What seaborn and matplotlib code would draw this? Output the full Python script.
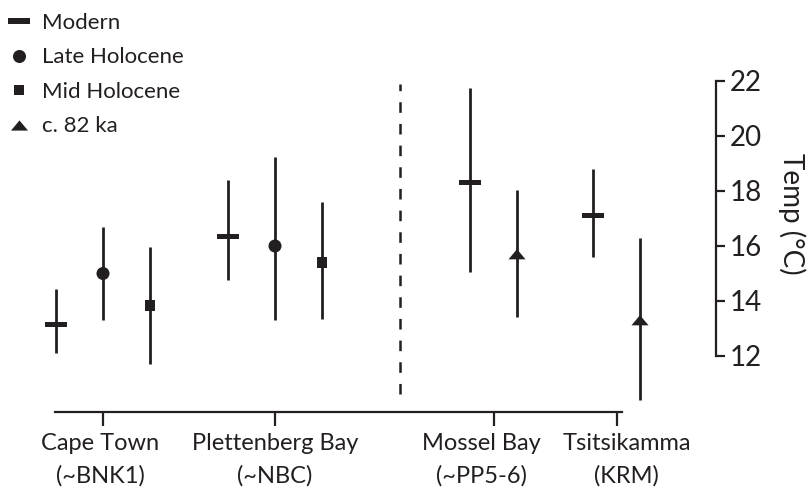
import numpy as np
import pandas as pd
import seaborn as sns
import matplotlib.pyplot as plt
import matplotlib.transforms as mtransforms
from matplotlib.path import Path

# Temperature estimates (deg C) per site and period
sites = ["Cape Town", "Plettenberg Bay", "Mossel Bay", "Tsitsikamma"]
site_codes = ["(~BNK1)", "(~NBC)", "(~PP5-6)", "(KRM)"]
periods = ["Modern", "Late Holocene", "Mid Holocene", "c. 82 ka"]

site = ["Cape Town"] * 3 + ["Plettenberg Bay"] * 3 + ["Mossel Bay"] * 2 + ["Tsitsikamma"] * 2
period = ["Modern", "Late Holocene", "Mid Holocene",
          "Modern", "Late Holocene", "Mid Holocene",
          "Modern", "c. 82 ka",
          "Modern", "c. 82 ka"]
temp = [13.15, 15.0, 13.85, 16.35, 16.0, 15.4, 18.3, 15.7, 17.1, 13.3]
temp_low = [12.1, 13.3, 11.7, 14.75, 13.3, 13.35, 15.05, 13.4, 15.6, 10.4]
temp_high = [14.45, 16.7, 15.95, 18.4, 19.25, 17.6, 21.75, 18.05, 18.8, 16.3]
y_ticks = [12, 14, 16, 18, 20, 22]

# Layout: x axis is laid out in figure pixels
site_x = {"Cape Town": 103, "Plettenberg Bay": 275, "Mossel Bay": 493.5, "Tsitsikamma": 616.5}
slot = 47
label_shift = [-3, 0, -12, 10]
ink = "#231f20"

sns.set_style("ticks")
plt.rcParams["font.family"] = ["Lato", "DejaVu Sans"]
plt.rcParams["lines.scale_dashes"] = False

df = pd.DataFrame({"site": site, "period": period, "temp": temp,
                   "low": temp_low, "high": temp_high})
df["slot"] = df.groupby("site").cumcount()
df["n"] = df.groupby("site")["site"].transform("size")
df["x"] = df["site"].map(site_x) + (df["slot"] - (df["n"] - 1) / 2) * slot

# Custom filled markers: flat bar for modern values, squat triangle for 82 ka
bar = Path([(-1, -0.25), (1, -0.25), (1, 0.25), (-1, 0.25), (-1, -0.25)], closed=True)
tri = Path([(0, 0.6), (-1, -0.6), (1, -0.6), (0, 0.6)], closed=True)
markers = {"Modern": bar, "Late Holocene": "o", "Mid Holocene": "s", "c. 82 ka": tri}
sizes = {"Modern": 250, "Late Holocene": 88, "Mid Holocene": 62, "c. 82 ka": 150}

fig = plt.figure(figsize=(8.07, 4.88), dpi=100)
ax = fig.add_axes([0, 0, 1, 1])
ax.set_facecolor("white")

ax.vlines(df["x"], df["low"], df["high"], color=ink, linewidth=2.0, zorder=2)
sns.scatterplot(data=df, x="x", y="temp", style="period", size="period",
                markers=markers, sizes=sizes, style_order=periods, size_order=periods,
                color=ink, linewidth=0, zorder=3, legend="full", ax=ax)

# dashed separator between the two groups of sites
ax.vlines(400, 10.6, 21.9, color=ink, linewidth=1.8, linestyles=(0, (7.6, 8.0)))

ax.set_xlim(0, 807)
ax.set_ylim(7.2, 24.945)

ax.spines["top"].set_visible(False)
ax.spines["left"].set_visible(False)
ax.spines["right"].set_position(("data", 716))
ax.spines["right"].set_bounds(12, 22)
ax.spines["bottom"].set_position(("data", 9.964))
ax.spines["bottom"].set_bounds(55, 622)
for s in ["right", "bottom"]:
    ax.spines[s].set_linewidth(1.6)
    ax.spines[s].set_color(ink)

ax.yaxis.tick_right()
ax.set_yticks(y_ticks)
ax.tick_params(axis="y", direction="out", length=6.5, width=1.6, pad=3.5,
               labelsize=20, color=ink, labelcolor=ink)
ax.set_xticks(list(site_x.values()))
ax.set_xticklabels([f"{s}\n{c}" for s, c in zip(sites, site_codes)], linespacing=1.62)
ax.tick_params(axis="x", direction="out", length=10, width=1.6, pad=5,
               labelsize=17, color=ink, labelcolor=ink)
for lab, dx in zip(ax.get_xticklabels(), label_shift):
    lab.set_transform(lab.get_transform() + mtransforms.ScaledTranslation(dx / 100, 0, fig.dpi_scale_trans))

ax.set_xlabel("")
ax.yaxis.set_label_position("right")
ax.set_ylabel("Temp (°C)", rotation=270, fontsize=20, color=ink, ha="center", va="center")
ax.yaxis.set_label_coords(792 / 807, 274 / 488)

sns.move_legend(ax, "upper left", bbox_to_anchor=(6 / 807, 1 - 13 / 488), frameon=False,
                title=None, fontsize=16, handlelength=1.15, handletextpad=0.45,
                labelspacing=0.65, borderpad=0, borderaxespad=0)
for h in ax.get_legend().legend_handles:
    h.set_color(ink)
    h.set_markeredgewidth(0)
for t in ax.get_legend().get_texts():
    t.set_color(ink)

fig.savefig("out.png", dpi=100)
